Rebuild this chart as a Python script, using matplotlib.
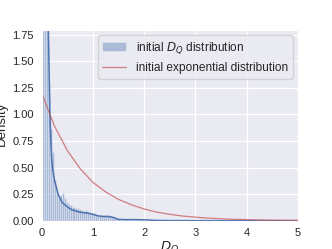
import matplotlib
matplotlib.use('Agg')
import matplotlib.pyplot as plt
import numpy as np
import seaborn as sns

# histogram of initial D_Q (density per bin, bin width 0.04)
bin_left = np.arange(0, 2.0, 0.04)
hist_density = [3.4, 2.8, 1.9, 1.31, 0.86, 0.65, 0.38, 0.27, 0.23, 0.24,
                0.26, 0.21, 0.18, 0.16, 0.15, 0.13, 0.12, 0.12, 0.11, 0.10,
                0.09, 0.10, 0.09, 0.08, 0.07, 0.07, 0.06, 0.05, 0.05, 0.05,
                0.04, 0.05, 0.04, 0.05, 0.04, 0.03, 0.02, 0.015, 0.01, 0.012,
                0.01, 0.012, 0.01, 0.008, 0.01, 0.012, 0.01, 0.008, 0.02, 0.01]

# kde line
kde_x = [0.0, 0.05, 0.1, 0.13, 0.16, 0.19, 0.21, 0.25, 0.32, 0.4, 0.5, 0.6,
         0.75, 0.9, 1.0, 1.1, 1.2, 1.3, 1.4, 1.5, 1.6, 1.8, 2.0, 2.2, 2.5, 3.0,
         3.5, 5.0]
kde_y = [3.6, 3.3, 2.4, 1.8, 1.0, 0.62, 0.5, 0.38, 0.25, 0.17, 0.13, 0.10,
         0.08, 0.07, 0.06, 0.045, 0.04, 0.04, 0.03, 0.012, 0.01, 0.01, 0.008,
         0.003, 0.001, 0.0, 0.0, 0.0]

# exponential curve
exp_x = [0.0, 0.25, 0.5, 0.75, 1.0, 1.25, 1.5, 1.75, 2.0, 2.25, 2.5, 2.75,
         3.0, 3.25, 3.5, 3.75, 4.0, 4.25, 4.5, 4.75, 5.0]
exp_y = [1.20, 0.89, 0.66, 0.49, 0.36, 0.27, 0.20, 0.15, 0.11, 0.08, 0.06,
         0.044, 0.033, 0.024, 0.018, 0.013, 0.010, 0.007, 0.005, 0.004, 0.003]

sns.set_style('darkgrid')
plt.rcParams['font.family'] = ['Liberation Sans', 'DejaVu Sans']
plt.rcParams['mathtext.fontset'] = 'dejavusans'

fig = plt.figure(figsize=(3.32, 2.49), dpi=100)
ax = fig.add_axes([0.1256, 0.1137, 0.772, 0.7658])

ax.bar(bin_left, hist_density, width=0.04, align='edge', color='#4c72b0',
       alpha=0.4, edgecolor='white', linewidth=0.5,
       label='initial $D_Q$ distribution')
ax.plot(kde_x, kde_y, color='#4c72b0', lw=1.1)
ax.plot(exp_x, exp_y, color='#c44e52', alpha=0.7, lw=0.9,
        label='initial exponential distribution')

ax.set_xlim(0, 5)
ax.set_ylim(0, 1.795)
ax.set_yticks(np.arange(0, 1.76, 0.25))
ax.set_yticklabels(['%.2f' % v for v in np.arange(0, 1.76, 0.25)])
ax.tick_params(labelsize=8, pad=2)
ax.set_ylabel('Density', fontsize=9.5)
ax.yaxis.set_label_coords(-0.133, 0.51)
ax.set_xlabel('$D_Q$', fontsize=9.5)
ax.xaxis.set_label_coords(0.5, -0.095)

handles, labels = ax.get_legend_handles_labels()
ax.legend(handles[::-1], labels[::-1], loc='upper right', fontsize=8.6,
          borderaxespad=0.45, handlelength=2.0, framealpha=0.8)

fig.savefig('out.png', dpi=100)
